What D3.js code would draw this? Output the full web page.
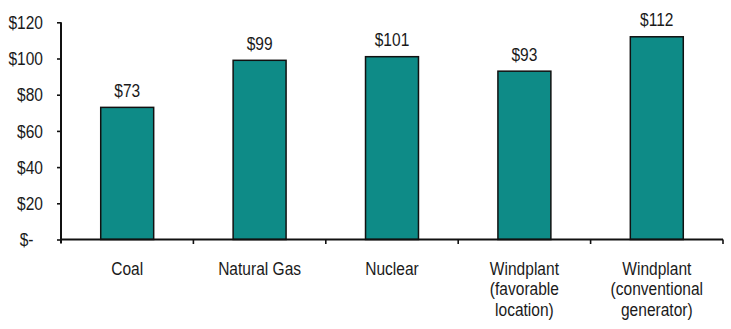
<!DOCTYPE html>
<html>
<head>
<meta charset="utf-8">
<script src="https://cdn.jsdelivr.net/npm/d3@7"></script>
<style>
  html, body { margin: 0; padding: 0; background: #fff; }
  svg { display: block; font-family: "Liberation Sans", Arial, sans-serif; }
</style>
</head>
<body>
<svg id="chart" width="731" height="329"></svg>
<script>
const categories = [
  ["Coal"],
  ["Natural Gas"],
  ["Nuclear"],
  ["Windplant", "(favorable", "location)"],
  ["Windplant", "(conventional", "generator)"]
];
const values = [73, 99, 101, 93, 112];
const yTicks = [0, 20, 40, 60, 80, 100, 120];
const yTickLabels = ["$-", "$20", "$40", "$60", "$80", "$100", "$120"];

const svg = d3.select("#chart");
const left = 61, right = 723;
const x = d3.scaleBand()
  .domain(d3.range(categories.length))
  .range([left, right])
  .paddingInner(0.6)
  .paddingOuter(0.3);
const y = d3.scaleLinear().domain([0, 120]).range([239.5, 22.3]);

const textColor = "#1a1a1a";
const fontSize = "18.5px";
const sx = 0.84;

function addText(parent, tx, ty, str, anchor) {
  const g = parent.append("g").attr("transform", `translate(${tx},${ty}) scale(${sx},1)`);
  return g.append("text")
    .attr("text-anchor", anchor)
    .attr("font-size", fontSize)
    .attr("fill", textColor)
    .text(str);
}

// bars
svg.append("g").selectAll("rect")
  .data(values)
  .join("rect")
  .attr("x", (d, i) => x(i))
  .attr("y", d => y(d))
  .attr("width", x.bandwidth())
  .attr("height", d => y(0) - y(d))
  .attr("fill", "#0e8b87")
  .attr("stroke", "#111")
  .attr("stroke-width", 1.5);

// value labels
const vg = svg.append("g");
values.forEach((d, i) => {
  addText(vg, x(i) + x.bandwidth() / 2, y(d) - 10.5, "$" + d, "middle");
});

// y axis
const yAxis = d3.axisLeft(y)
  .tickValues(yTicks)
  .tickFormat("")
  .tickSize(4);
const yg = svg.append("g")
  .attr("transform", `translate(${left},0)`)
  .call(yAxis);
yg.select(".domain").remove();
yg.selectAll(".tick line").attr("stroke", "#111").attr("stroke-width", 1.6);
yg.append("line")
  .attr("x1", 0).attr("x2", 0)
  .attr("y1", y(120)).attr("y2", y(0) + 4)
  .attr("stroke", "#111").attr("stroke-width", 2);
const ylg = svg.append("g");
yTicks.forEach((t, i) => {
  addText(ylg, t === 0 ? 33.5 : 43, y(t) + 6.7, yTickLabels[i], "end");
});

// x axis
const xg = svg.append("g");
xg.append("line")
  .attr("x1", left).attr("x2", right)
  .attr("y1", y(0)).attr("y2", y(0))
  .attr("stroke", "#111").attr("stroke-width", 2);
const boundaries = d3.range(1, categories.length + 1).map(i => left + i * x.step());
xg.selectAll("line.tk")
  .data(boundaries)
  .join("line")
  .attr("class", "tk")
  .attr("x1", d => d).attr("x2", d => d)
  .attr("y1", y(0)).attr("y2", y(0) + 4.5)
  .attr("stroke", "#111").attr("stroke-width", 1.6);

categories.forEach((lines, i) => {
  lines.forEach((ln, j) => {
    addText(xg, x(i) + x.bandwidth() / 2, 274.5 + j * 20.5, ln, "middle");
  });
});
</script>
</body>
</html>
